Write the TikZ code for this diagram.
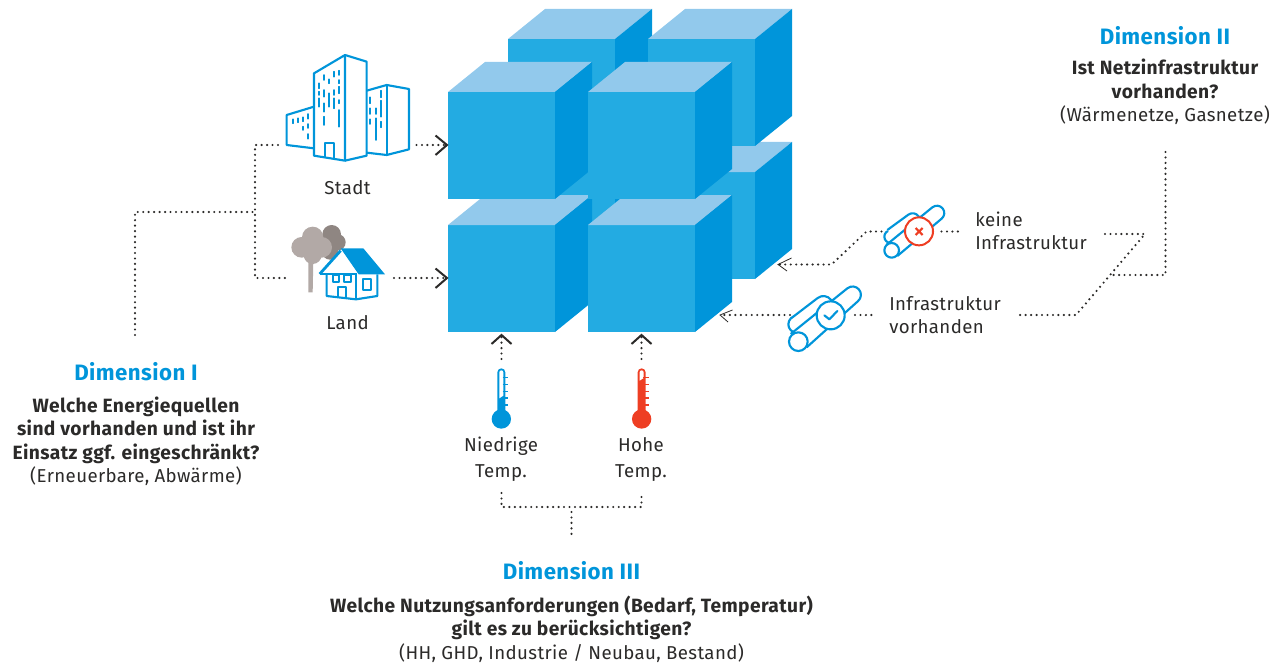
\documentclass[tikz,border=0pt]{standalone}
\usepackage{fontspec}
\setmainfont{Fira Sans}[LetterSpace=2.0]
\definecolor{cfront}{HTML}{23ABE2}
\definecolor{cside}{HTML}{0095DA}
\definecolor{ctop}{HTML}{92C9EC}
\definecolor{cred}{HTML}{EE3E23}
\definecolor{ctext}{HTML}{2B2A29}
\definecolor{ctreeA}{HTML}{B2A9A6}
\definecolor{ctreeB}{HTML}{8F8682}
\newcommand{\bt}[1]{{\fontsize{14.4pt}{17.6pt}\selectfont\bfseries #1}}
\tikzset{
  dots/.style={line width=1.8pt,line cap=round,dash pattern=on 0pt off 4.1pt,ctext},
  chev/.style={line width=1.5pt,ctext,line join=miter},
  chevthin/.style={line width=.6pt,ctext},
  lbl/.style={align=center,inner sep=0pt,text=ctext,font=\fontsize{14pt}{17.6pt}\selectfont},
  head/.style={inner sep=0pt,text=cside,font=\fontsize{16.7pt}{20pt}\selectfont\bfseries},
  iconl/.style={cside,line width=1.6pt,line join=round},
  thin/.style={cside,line width=1.3pt,line cap=round},
}
\newcommand{\bluecube}[3]{%
  \coordinate (#3) at (#1,#2);
  \fill[cfront] (#1,#2) rectangle ++(107,107);
  \fill[ctop] (#1,#2) -- ++(37,-30) -- ++(107,0) -- ++(-37,30) -- cycle;
  \fill[cside] (#1+107,#2) -- ++(37,-30) -- ++(0,107) -- ++(-37,30) -- cycle;
}
\begin{document}
\begin{tikzpicture}[x=0.75pt,y=-0.75pt]
\useasboundingbox (0,0) rectangle (1287,663);
% cubes
\bluecube{508}{172}{cubeG}
\bluecube{648}{172}{cubeH}
\bluecube{508}{39}{cubeE}
\bluecube{648}{39}{cubeF}
\bluecube{448}{225}{cubeC}
\bluecube{588}{225}{cubeD}
\bluecube{448}{92}{cubeA}
\bluecube{588}{92}{cubeB}
% named junctions
\coordinate (a1) at (447,145);
\coordinate (a2) at (447,278);
\coordinate (a3) at (501.5,335);
\coordinate (a4) at (641.5,335);
\coordinate (a5) at (778,264.5);
\coordinate (a6) at (720,315);
% city icon
\begin{scope}[shift={(250,40)},x=0.25pt,y=-0.25pt]
  \draw[iconl] (192,100) -- (285,45) -- (285,362) -- (192,347) -- cycle;
  \draw[iconl] (285,45) -- (350,65) -- (350,347) -- (285,362);
  \draw[iconl] (192,200) -- (110,225) -- (110,315) -- (192,325);
  \draw[iconl] (350,152) -- (410,135) -- (477,147) -- (477,328) -- (410,345) -- (350,338);
  \draw[iconl] (410,135) -- (410,345);
  \draw[iconl] (225,355) -- (225,310) -- (252,310) -- (252,358);
  \foreach \x/\a/\b in {207/130/145,207/155/165,207/175/200,222/105/120,222/150/170,222/190/215,222/230/255,238/118/130,238/160/200,253/95/110,253/150/165,253/175/205,268/92/105,268/120/130,268/140/160,268/180/190,268/210/260,128/238/250,143/235/247,158/232/244,174/222/236,158/260/270,174/252/264,174/282/296,361/172/190,361/205/222,361/238/252,377/205/222,377/235/300,392/152/172,392/182/230,392/245/262}
    \draw[thin] (\x,\a) -- (\x,\b);
  % tree and house
  \fill[ctreeB] (245,583) circle[radius=28] (262,607) circle[radius=25] (240,635) circle[radius=24];
  \fill[ctreeA] (175,660) -- (190,660) -- (188,757) -- (175,757) -- cycle;
  \fill[ctreeA] (188,592) circle[radius=32] (155,622) circle[radius=31] (215,622) circle[radius=31] (188,645) circle[radius=27];
  \fill[white] (272,632) -- (325,703) -- (382,703) -- (382,770) -- (230,770) -- (230,703) -- (215,703) -- cycle;
  \fill[cside] (272,625) -- (340,625) -- (405,703) -- (326,703) -- cycle;
  \draw[cside,line width=2.1pt] (209,702) -- (272,632);
  \draw[cside,line width=1.7pt] (209,702) -- (320,702);
  \draw[iconl] (230,703) -- (230,768) -- (318,778) -- (382,768) -- (382,703);
  \draw[iconl] (318,703) -- (318,778);
  \draw[iconl] (250,704) rectangle (268,725) (283,704) rectangle (302,725);
  \draw[iconl] (263,772) -- (263,742) -- (288,742) -- (288,772);
  \draw[iconl] (338,717) rectangle (362,750);
\end{scope}
% pipes
\begin{scope}[shift={(770,140)},x=0.25pt,y=-0.25pt]
  \draw[iconl] (362,290) circle[radius=19];
  \draw[iconl,fill=white] (352,270) -- (415,224) arc[start angle=234,end angle=400,radius=22] -- (380,305);
  \draw[iconl,fill=white] (350,314) -- (487,202) arc[start angle=231,end angle=411,radius=22] -- (382,348);
  \draw[iconl,fill=white] (365,331) circle[radius=22];
  \draw[cred,line width=1.5pt,fill=white] (447,274) circle[radius=42];
  \draw[cred,line width=1.6pt] (437,264) -- (458,285) (437,285) -- (458,264);
  % check pipe
  \draw[iconl] (80,553) circle[radius=25];
  \draw[iconl,fill=white] (62,536) -- (143,474) arc[start angle=232,end angle=380,radius=28] -- (100,575);
  \draw[iconl,fill=white] (62,582) -- (232,445) arc[start angle=231,end angle=411,radius=25] -- (110,622);
  \draw[iconl,fill=white] (85,605) circle[radius=28];
  \draw[iconl,fill=white] (182,526) circle[radius=42];
  \draw[iconl,line cap=round] (163,526) -- (178,538) -- (202,513);
\end{scope}
% thermometers
\foreach \n/\sx/\c/\w in {0/450/cside/235,1/590.3/cred/182}{
\begin{scope}[shift={(\sx,320)},x=0.25pt,y=-0.25pt]
  \fill[\c] (154,297) circle[radius=29];
  \fill[\c] (142,297) -- (142,157) arc[start angle=180,end angle=360,radius=12] -- (166,297) -- cycle;
  \fill[white] (148,\w) -- (148,157) arc[start angle=180,end angle=360,radius=6] -- (160,\w-8) -- cycle;
  \foreach \yy in {172,193,214,234,255} \draw[\c,line width=.9pt] (158,\yy) -- (175,\yy);
\end{scope}}
% dotted connectors
\coordinate (d1a) at (135,335); \coordinate (d1b) at (135,212); \coordinate (d1c) at (255,212);
\coordinate (d1d) at (255,145); \coordinate (d1e) at (255,278);
\coordinate (d1f) at (278,145); \coordinate (d1g) at (287,278);
\coordinate (d1h) at (416.5,145); \coordinate (d1i) at (394,278);
\draw[dots] (d1a) -- (d1b) -- (d1c);
\draw[dots] (d1f) -- (d1d) -- (d1e) -- (d1g);
\draw[dots] (d1h) -- (a1);
\draw[dots] (d1i) -- (a2);
\coordinate (d3a) at (501.5,359); \coordinate (d3b) at (641.5,359);
\draw[dots] (d3a) -- (a3);
\draw[dots] (d3b) -- (a4);
\coordinate (d3c) at (501.5,493); \coordinate (d3d) at (501.5,507); \coordinate (d3e) at (641.5,507);
\coordinate (d3f) at (641.5,493); \coordinate (d3g) at (571.5,512); \coordinate (d3h) at (571.5,537);
\draw[dots] (d3c) -- (d3d) -- (d3e) -- (d3f);
\draw[dots] (d3g) -- (d3h);
\coordinate (d2a) at (1165.5,152); \coordinate (d2b) at (1165.5,275); \coordinate (d2c) at (1112,275);
\coordinate (d2d) at (1105,234); \coordinate (d2e) at (1145,234); \coordinate (d2f) at (1076,315); \coordinate (d2g) at (1020,315);
\draw[dots] (d2a) -- (d2b) -- (d2c);
\draw[dots] (d2d) -- (d2e) -- (d2f) -- (d2g);
\coordinate (p1a) at (941.5,231.5); \coordinate (p1b) at (958,231.5);
\coordinate (p1c) at (881.5,231.5); \coordinate (p1d) at (866.5,231.5); \coordinate (p1e) at (831.5,264.5);
\draw[dots] (p1a) -- (p1b);
\draw[dots] (p1c) -- (p1d) -- (p1e) -- (a5);
\coordinate (p2a) at (855,315); \coordinate (p2b) at (871.5,315); \coordinate (p2c) at (790,315);
\draw[dots] (p2a) -- (p2b);
\draw[dots] (p2c) -- (a6);
% chevrons
\draw[chev] (435.5,135.5) -- (a1) -- (435.5,155);
\draw[chev] (435.5,268.5) -- (a2) -- (435.5,288);
\draw[chev] (491.5,344) -- (a3) -- (511.5,344);
\draw[chev] (631.5,344) -- (a4) -- (651.5,344);
\draw[chevthin] (791.5,258) -- (a5) -- (787,271);
\draw[chevthin] (732.5,310) -- (a6) -- (728,322);
% labels
\node[lbl] (stadt) at (347.5,188) {Stadt};
\node[lbl] (land) at (347.5,323) {Land};
\node[lbl,font=\fontsize{14pt}{19.5pt}\selectfont] (niedrig) at (501,459.5) {Niedrige\\Temp.};
\node[lbl,font=\fontsize{14pt}{19.5pt}\selectfont] (hoch) at (641,459.5) {Hohe\\Temp.};
\node[lbl,align=left,anchor=west] (keine) at (975,231) {keine\\Infrastruktur};
\node[lbl,align=left,anchor=west] (vorh) at (889,315) {Infrastruktur\\vorhanden};
\node[head] (d1) at (136,372) {Dimension I};
\node[head] (d2) at (1165,36) {Dimension II};
\node[head] (d3) at (571.5,571) {Dimension III};
\node[lbl,anchor=north] (t1) at (136,396.5) {\bt{Welche Energiequellen}\\\bt{sind vorhanden und ist ihr}\\\bt{Einsatz ggf. eingeschränkt?}\\(Erneuerbare, Abwärme)};
\node[lbl,anchor=north] (t2) at (1165,59) {\bt{Ist Netzinfrastruktur}\\\bt{vorhanden?}\\(Wärmenetze, Gasnetze)};
\node[lbl,anchor=north] (t3) at (571.5,595.5) {\bt{Welche Nutzungsanforderungen (Bedarf, Temperatur)}\\\bt{gilt es zu berücksichtigen?}\\(HH, GHD, Industrie / Neubau, Bestand)};
\end{tikzpicture}
\end{document}
